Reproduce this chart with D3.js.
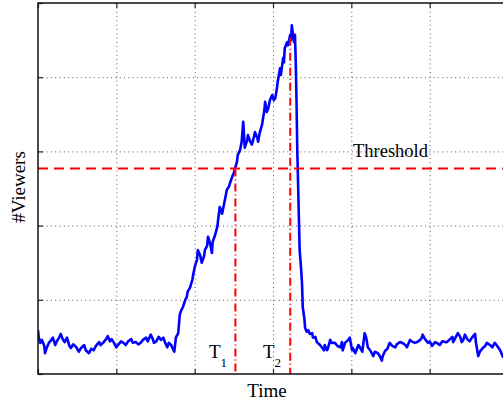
<!DOCTYPE html>
<html>
<head>
<meta charset="utf-8">
<script src="https://cdn.jsdelivr.net/npm/d3@7"></script>
<style>
  body { margin: 0; background: #fff; }
  svg { display: block; font-family: "Liberation Serif", "Times New Roman", serif; }
  .grid line { stroke: #555; stroke-width: 1; stroke-dasharray: 1,3.3; }
  .grid path { display: none; }
  .ticks path { display: none; }
  .ticks line { stroke: #222; stroke-width: 1.2; }
</style>
</head>
<body>
<div id="chart"></div>
<script>
// time (arbitrary units) and number of viewers (arbitrary units)
const time = [0,1,3,5,8,9,11,14,17,19,22,24,27,29,32,34,37,40,42,45,49,52,55,59,61,65,68,71,74,78,
  80,83,87,89,92,94,97,100,102,106,109,112,115,119,121,125,128,131,134,138,140,144,147,148,151,154,157,160,162,165,
  167,170,172,174,176,179,181,183,185,188,190,191,194,197,198,200,203,204,207,209,212,213,216,217,220,222,223,226,229,230,
  232,235,236,239,241,244,245,248,250,251,254,255,258,260,262,263,264,267,268,271,273,276,277,280,281,283,286,289,290,292,
  294,296,299,301,303,305,306,309,310,313,314,315,318,319,322,323,324,326,327,328,329,330,331,332,333,334,336,337,338,340,
  341,343,345,347,350,351,354,356,357,360,363,365,366,369,370,373,375,379,382,386,388,389,392,396,398,401,402,405,409,411,
  414,417,419,421,424,428,430,434,437,439,440,443,446,449,452,456,458,462,465,469,471,475,477,481,484,488,490,491,494,498,
  500,503,507,509,513,516,520,522,526,529,530,532,536,539,541,543,545,548,551,554,558,559,562,564,567,571,573,577,580,583,
  586,590,592,594];
const viewers = [59,49,42,46,38,28,35,42,46,49,39,44,49,54,46,43,49,38,35,40,36,30,35,39,32,28,34,32,38,43,
  39,42,47,51,44,47,42,36,39,44,42,39,44,47,42,43,40,42,46,49,44,53,46,42,44,50,46,49,43,36,
  42,39,34,30,49,55,80,86,90,100,104,111,116,127,133,144,154,167,160,150,159,167,173,185,175,163,178,187,199,208,
  225,216,221,237,248,253,257,266,271,275,286,295,302,313,340,322,305,315,322,313,309,321,326,318,313,325,336,356,367,353,
  358,369,376,369,372,385,394,412,403,426,420,439,447,443,457,450,470,453,447,457,423,369,302,257,212,167,140,123,90,75,
  62,57,59,54,55,49,50,43,42,39,35,32,39,32,34,46,42,42,38,36,43,32,42,46,49,32,35,28,39,36,
  30,55,49,36,32,24,30,28,23,18,24,31,34,42,38,36,40,43,42,39,36,46,44,42,43,46,49,53,47,42,
  44,38,43,42,39,44,43,43,47,50,43,47,55,50,43,46,53,47,44,49,54,43,24,30,34,38,42,39,36,42,
  38,32,27,22];

const xTicks = [0, 100, 200, 300, 400, 500, 600];
const yTicks = [0, 100, 200, 300, 400, 500];
const threshold = 277;
const t1 = 252;
const t2 = 322;
const t2Top = 453;

const width = 503, height = 405;
const marginLeft = 38, marginTop = 3, plotRight = 508, plotBottom = 374;

const svg = d3.select('#chart').append('svg')
  .attr('width', width)
  .attr('height', height);

const x = d3.scaleLinear().domain([0, 600]).range([marginLeft, plotRight]);
const y = d3.scaleLinear().domain([0, 500]).range([plotBottom, marginTop]);

// dotted grid
svg.append('g')
  .attr('class', 'grid')
  .attr('transform', `translate(0,${plotBottom})`)
  .call(d3.axisBottom(x).tickValues(xTicks.slice(1, -1)).tickSize(-(plotBottom - marginTop)).tickFormat(''));
svg.append('g')
  .attr('class', 'grid')
  .attr('transform', `translate(${marginLeft},0)`)
  .call(d3.axisLeft(y).tickValues(yTicks.slice(1, -1)).tickSize(-(plotRight - marginLeft)).tickFormat(''));

// data line
svg.append('clipPath').attr('id', 'clip')
  .append('rect')
  .attr('x', marginLeft).attr('y', marginTop)
  .attr('width', plotRight - marginLeft).attr('height', plotBottom - marginTop);

const pts = time.map((t, i) => [t, viewers[i]]);
svg.append('path')
  .datum(pts)
  .attr('clip-path', 'url(#clip)')
  .attr('fill', 'none')
  .attr('stroke', '#0000ff')
  .attr('stroke-width', 2.6)
  .attr('stroke-linejoin', 'round')
  .attr('d', d3.line().x(d => x(d[0])).y(d => y(d[1])));

// threshold and crossing markers
svg.append('line')
  .attr('x1', x(0)).attr('x2', x(600))
  .attr('y1', y(threshold)).attr('y2', y(threshold))
  .attr('stroke', '#ff0000').attr('stroke-width', 2)
  .attr('stroke-dasharray', '10,6');
svg.append('line')
  .attr('x1', x(t1)).attr('x2', x(t1))
  .attr('y1', y(threshold)).attr('y2', y(0))
  .attr('stroke', '#ff0000').attr('stroke-width', 2)
  .attr('stroke-dasharray', '8,3,1,3');
svg.append('line')
  .attr('x1', x(t2)).attr('x2', x(t2))
  .attr('y1', y(t2Top)).attr('y2', y(0))
  .attr('stroke', '#ff0000').attr('stroke-width', 2)
  .attr('stroke-dasharray', '8,3,1,3');

// ticks (inside) and frame
svg.append('g').attr('class', 'ticks')
  .attr('transform', `translate(0,${plotBottom})`)
  .call(d3.axisBottom(x).tickValues(xTicks).tickSize(-5).tickFormat(''));
svg.append('g').attr('class', 'ticks')
  .attr('transform', `translate(0,${marginTop})`)
  .call(d3.axisTop(x).tickValues(xTicks).tickSize(-5).tickFormat(''));
svg.append('g').attr('class', 'ticks')
  .attr('transform', `translate(${marginLeft},0)`)
  .call(d3.axisLeft(y).tickValues(yTicks).tickSize(-5).tickFormat(''));

svg.append('rect')
  .attr('x', marginLeft).attr('y', marginTop)
  .attr('width', plotRight - marginLeft).attr('height', plotBottom - marginTop)
  .attr('fill', 'none').attr('stroke', '#111').attr('stroke-width', 1.5);

// labels
svg.append('text')
  .attr('x', 267).attr('y', 397)
  .attr('text-anchor', 'middle')
  .attr('font-size', 19)
  .text('Time');

svg.append('text')
  .attr('transform', 'translate(25,187) rotate(-90)')
  .attr('text-anchor', 'middle')
  .attr('font-size', 19)
  .text('#Viewers');

svg.append('text')
  .attr('x', 353).attr('y', 157)
  .attr('font-size', 18.5)
  .text('Threshold');

function markLabel(xPos, sub) {
  const t = svg.append('text')
    .attr('x', xPos).attr('y', 358)
    .attr('font-size', 19);
  t.append('tspan').text('T');
  t.append('tspan').attr('dy', 9).attr('font-size', 13).text(sub);
}
markLabel(209, '1');
markLabel(263, '2');
</script>
</body>
</html>
